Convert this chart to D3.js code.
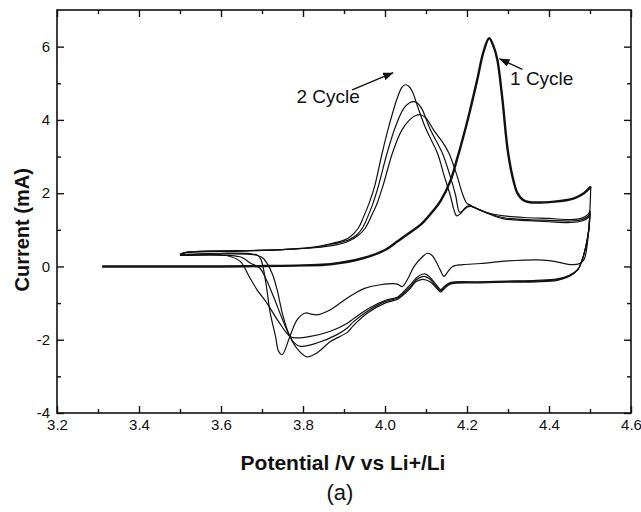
<!DOCTYPE html>
<html>
<head>
<meta charset="utf-8">
<script src="https://cdn.jsdelivr.net/npm/d3@7"></script>
<style>
  body { margin: 0; background: #fff; }
  text { font-family: "Liberation Sans", Arial, sans-serif; fill: #111; }
</style>
</head>
<body>
<script>
"use strict";

//data (potential V, current mA)

const xTicks = [3.2, 3.4, 3.6, 3.8, 4.0, 4.2, 4.4, 4.6];
const yTicks = [-4, -2, 0, 2, 4, 6];

const cycle1Forward = [
  [3.31, 0.0], [3.40, 0.0], [3.50, 0.0], [3.60, 0.0], [3.70, 0.01], [3.80, 0.03],
  [3.867, 0.06], [3.948, 0.23], [4.00, 0.45], [4.03, 0.68], [4.06, 0.92], [4.087, 1.14],
  [4.11, 1.42], [4.136, 1.8], [4.16, 2.35], [4.175, 2.9], [4.19, 3.5], [4.205, 4.15],
  [4.225, 5.1], [4.24, 5.85], [4.254, 6.23], [4.265, 6.0], [4.274, 5.64], [4.286, 4.6],
  [4.299, 3.2], [4.311, 2.45], [4.323, 2.0], [4.336, 1.82], [4.35, 1.76], [4.413, 1.77],
  [4.461, 1.86], [4.485, 2.0], [4.502, 2.18]
];

const cycle1Reverse = [
  [4.502, 2.18], [4.500, 1.6], [4.497, 1.0], [4.492, 0.5], [4.486, 0.2], [4.475, 0.08],
  [4.453, 0.05], [4.43, 0.1], [4.40, 0.16], [4.372, 0.18], [4.30, 0.15], [4.233, 0.08],
  [4.19, 0.05], [4.165, 0.0], [4.153, -0.15], [4.144, -0.27], [4.135, -0.1], [4.126, 0.1],
  [4.115, 0.3], [4.103, 0.36], [4.09, 0.25], [4.071, 0.0], [4.055, -0.35], [4.042, -0.55],
  [4.03, -0.48], [3.989, -0.50], [3.95, -0.6], [3.924, -0.75], [3.908, -0.86], [3.867, -1.18],
  [3.834, -1.32], [3.82, -1.3], [3.806, -1.27], [3.786, -1.45], [3.768, -1.91], [3.749, -2.41],
  [3.74, -2.3], [3.733, -1.91], [3.72, -1.27], [3.712, -0.64], [3.704, -0.09], [3.697, 0.2],
  [3.69, 0.3], [3.67, 0.35], [3.60, 0.36], [3.50, 0.33]
];

const cycle2Forward = [
  [3.50, 0.33], [3.51, 0.38], [3.55, 0.40], [3.65, 0.42], [3.75, 0.46], [3.82, 0.52],
  [3.867, 0.62], [3.90, 0.72], [3.916, 0.82], [3.935, 1.05], [3.948, 1.36], [3.962, 1.75],
  [3.975, 2.2], [3.993, 3.09], [4.01, 3.85], [4.03, 4.6], [4.042, 4.9], [4.05, 4.96],
  [4.058, 4.92], [4.067, 4.77], [4.08, 4.35], [4.10, 3.75], [4.128, 3.09], [4.145, 2.45],
  [4.16, 1.91], [4.168, 1.55], [4.175, 1.38], [4.185, 1.45], [4.195, 1.6], [4.205, 1.66],
  [4.215, 1.62], [4.24, 1.5], [4.29, 1.38], [4.35, 1.33], [4.40, 1.31], [4.453, 1.28],
  [4.48, 1.32], [4.495, 1.42], [4.50, 1.52]
];

const cycle2Reverse = [
  [4.50, 1.52], [4.497, 1.0], [4.49, 0.55], [4.48, 0.15], [4.47, -0.09], [4.45, -0.27],
  [4.42, -0.38], [4.37, -0.42], [4.30, -0.43], [4.233, -0.45], [4.16, -0.48], [4.145, -0.6],
  [4.136, -0.7], [4.125, -0.58], [4.11, -0.42], [4.092, -0.35], [4.075, -0.42], [4.06, -0.62],
  [4.042, -0.8], [4.03, -0.9], [4.00, -1.0], [3.96, -1.25], [3.924, -1.6], [3.908, -1.8],
  [3.867, -2.05], [3.834, -2.36], [3.81, -2.47], [3.79, -2.3], [3.768, -1.91], [3.75, -1.3],
  [3.737, -0.64], [3.725, -0.2], [3.712, 0.09], [3.70, 0.25], [3.68, 0.32], [3.60, 0.34],
  [3.50, 0.31]
];

const cycle3Forward = [
  [3.50, 0.31], [3.51, 0.37], [3.55, 0.41], [3.65, 0.43], [3.75, 0.46], [3.82, 0.51],
  [3.867, 0.6], [3.91, 0.72], [3.93, 0.85], [3.945, 1.05], [3.958, 1.36], [3.97, 1.7],
  [3.984, 2.2], [4.005, 3.09], [4.025, 3.8], [4.045, 4.3], [4.06, 4.47], [4.071, 4.50],
  [4.08, 4.45], [4.09, 4.3], [4.11, 3.75], [4.14, 3.09], [4.158, 2.5], [4.172, 1.95],
  [4.182, 1.48], [4.19, 1.52], [4.2, 1.62], [4.21, 1.64], [4.225, 1.58], [4.25, 1.46],
  [4.29, 1.33], [4.35, 1.28], [4.40, 1.26], [4.453, 1.24], [4.48, 1.28], [4.495, 1.37],
  [4.50, 1.47]
];

const cycle3Reverse = [
  [4.50, 1.47], [4.497, 1.0], [4.49, 0.55], [4.48, 0.15], [4.47, -0.09], [4.45, -0.25],
  [4.42, -0.36], [4.37, -0.4], [4.30, -0.41], [4.233, -0.43], [4.16, -0.46], [4.145, -0.57],
  [4.136, -0.66], [4.125, -0.55], [4.11, -0.35], [4.095, -0.27], [4.078, -0.35], [4.06, -0.58],
  [4.042, -0.77], [4.03, -0.87], [4.00, -0.96], [3.96, -1.2], [3.924, -1.5], [3.908, -1.68],
  [3.883, -1.86], [3.834, -2.09], [3.794, -2.18], [3.78, -2.1], [3.768, -1.91], [3.75, -1.45],
  [3.728, -0.82], [3.71, -0.35], [3.695, -0.05], [3.672, 0.09], [3.65, 0.25], [3.62, 0.3],
  [3.50, 0.30]
];

const cycle4Forward = [
  [3.50, 0.30], [3.515, 0.38], [3.60, 0.42], [3.70, 0.44], [3.80, 0.49], [3.867, 0.56],
  [3.91, 0.68], [3.935, 0.85], [3.952, 1.05], [3.966, 1.36], [3.98, 1.7], [3.995, 2.2],
  [4.018, 3.09], [4.04, 3.7], [4.06, 4.0], [4.075, 4.12], [4.087, 4.14], [4.10, 4.05],
  [4.12, 3.7], [4.14, 3.4], [4.156, 3.09], [4.175, 2.5], [4.19, 1.95], [4.2, 1.72],
  [4.207, 1.68], [4.22, 1.6], [4.25, 1.45], [4.29, 1.3], [4.35, 1.25], [4.40, 1.22],
  [4.453, 1.2], [4.48, 1.24], [4.495, 1.33], [4.50, 1.43]
];

const cycle4Reverse = [
  [4.50, 1.43], [4.497, 1.0], [4.49, 0.55], [4.48, 0.15], [4.47, -0.09], [4.45, -0.24],
  [4.42, -0.34], [4.37, -0.38], [4.30, -0.4], [4.233, -0.42], [4.16, -0.44], [4.145, -0.54],
  [4.136, -0.63], [4.125, -0.5], [4.11, -0.3], [4.097, -0.2], [4.08, -0.28], [4.06, -0.52],
  [4.042, -0.73], [4.03, -0.84], [4.00, -0.93], [3.96, -1.15], [3.924, -1.42], [3.908, -1.55],
  [3.867, -1.77], [3.818, -1.91], [3.781, -1.95], [3.768, -1.91], [3.74, -1.5], [3.712, -1.0],
  [3.688, -0.64], [3.67, -0.3], [3.647, 0.14], [3.62, 0.28], [3.598, 0.32], [3.55, 0.33],
  [3.50, 0.30]
];

const thinCurves = [cycle1Reverse, cycle2Forward, cycle2Reverse, cycle3Forward,
  cycle3Reverse, cycle4Forward, cycle4Reverse];

//annotations (text anchor and arrow ends, in data units)

const labelCycle2 = { text: "2 Cycle", at: [3.784, 4.46], from: [3.92, 4.82], to: [4.02, 5.29] };
const labelCycle1 = { text: "1 Cycle", at: [4.305, 4.95], from: [4.335, 5.38], to: [4.279, 5.67] };

//chart params

const W = 641;
const H = 512;
const m = { t: 10, r: 10, b: 99, l: 57 };
const w = W - m.l - m.r;
const h = H - m.t - m.b;

const svg = d3.select("body")
  .append("svg")
  .attr("width", W)
  .attr("height", H);

const defs = svg.append("defs");

defs.append("marker")
  .attr("id", "head")
  .attr("viewBox", "0 0 10 8")
  .attr("refX", 10)
  .attr("refY", 4)
  .attr("markerWidth", 10)
  .attr("markerHeight", 8)
  .attr("markerUnits", "userSpaceOnUse")
  .attr("orient", "auto")
  .append("path")
  .attr("d", "M0,0 L10,4 L0,8 Z")
  .attr("fill", "#111");

const chart = svg.append("g")
  .attr("transform", `translate(${m.l}, ${m.t})`);

//scales

const x = d3.scaleLinear().domain([3.2, 4.6]).range([0, w]);
const y = d3.scaleLinear().domain([-4, 7]).range([h, 0]);

const xMinor = d3.range(3.3, 4.6, 0.2);
const yMinor = [-3, -1, 1, 3, 5];

//plain hyphen for negatives, as in the source figure

const fmtX = (d) => d.toFixed(1);
const fmtY = (d) => String(d);

//axes

const axisStyle = (g) => {
  g.select(".domain").remove();
  g.selectAll("line").attr("stroke", "#111").attr("stroke-width", 1.4);
  g.selectAll("text")
    .attr("font-size", 15)
    .attr("font-family", "'Liberation Sans', Arial, sans-serif")
    .attr("fill", "#111");
};

chart.append("g")
  .attr("transform", `translate(0, ${h})`)
  .call(d3.axisBottom(x).tickValues(xTicks).tickSize(-7).tickPadding(6).tickFormat(fmtX))
  .call(axisStyle);

chart.append("g")
  .attr("transform", `translate(0, ${h})`)
  .call(d3.axisBottom(x).tickValues(xMinor).tickSize(-4).tickFormat(""))
  .call(axisStyle);

chart.append("g")
  .call(d3.axisTop(x).tickValues(xTicks).tickSize(-7).tickFormat(""))
  .call(axisStyle);

chart.append("g")
  .call(d3.axisTop(x).tickValues(xMinor).tickSize(-4).tickFormat(""))
  .call(axisStyle);

chart.append("g")
  .call(d3.axisLeft(y).tickValues(yTicks).tickSize(-7).tickPadding(7).tickFormat(fmtY))
  .call(axisStyle);

chart.append("g")
  .call(d3.axisLeft(y).tickValues(yMinor).tickSize(-4).tickFormat(""))
  .call(axisStyle);

chart.append("g")
  .attr("transform", `translate(${w}, 0)`)
  .call(d3.axisRight(y).tickValues(yTicks).tickSize(-7).tickFormat(""))
  .call(axisStyle);

chart.append("g")
  .attr("transform", `translate(${w}, 0)`)
  .call(d3.axisRight(y).tickValues(yMinor).tickSize(-4).tickFormat(""))
  .call(axisStyle);

chart.append("rect")
  .attr("width", w)
  .attr("height", h)
  .attr("fill", "none")
  .attr("stroke", "#111")
  .attr("stroke-width", 1.6);

//curves

const line = d3.line()
  .x((d) => x(d[0]))
  .y((d) => y(d[1]))
  .curve(d3.curveCatmullRom.alpha(0.5));

chart.selectAll(".thin")
  .data(thinCurves)
  .enter()
  .append("path")
  .attr("class", "thin")
  .attr("d", line)
  .attr("fill", "none")
  .attr("stroke", "#111")
  .attr("stroke-width", 1.2);

chart.append("path")
  .datum(cycle1Forward)
  .attr("d", line)
  .attr("fill", "none")
  .attr("stroke", "#111")
  .attr("stroke-width", 2.4);

//annotations

[labelCycle2, labelCycle1].forEach((a) => {
  chart.append("text")
    .attr("x", x(a.at[0]))
    .attr("y", y(a.at[1]))
    .attr("font-size", 19)
    .text(a.text);
  chart.append("line")
    .attr("x1", x(a.from[0]))
    .attr("y1", y(a.from[1]))
    .attr("x2", x(a.to[0]))
    .attr("y2", y(a.to[1]))
    .attr("stroke", "#111")
    .attr("stroke-width", 1.4)
    .attr("marker-end", "url(#head)");
});

//titles

svg.append("text")
  .attr("x", 343)
  .attr("y", 470)
  .attr("text-anchor", "middle")
  .attr("font-size", 21)
  .attr("font-weight", "bold")
  .text("Potential /V vs Li+/Li");

svg.append("text")
  .attr("transform", `translate(29, ${m.t + y(1.0)}) rotate(-90)`)
  .attr("text-anchor", "middle")
  .attr("font-size", 20)
  .attr("font-weight", "bold")
  .text("Current (mA)");

svg.append("text")
  .attr("x", 340)
  .attr("y", 500)
  .attr("text-anchor", "middle")
  .attr("font-size", 22)
  .text("(a)");
</script>
</body>
</html>
